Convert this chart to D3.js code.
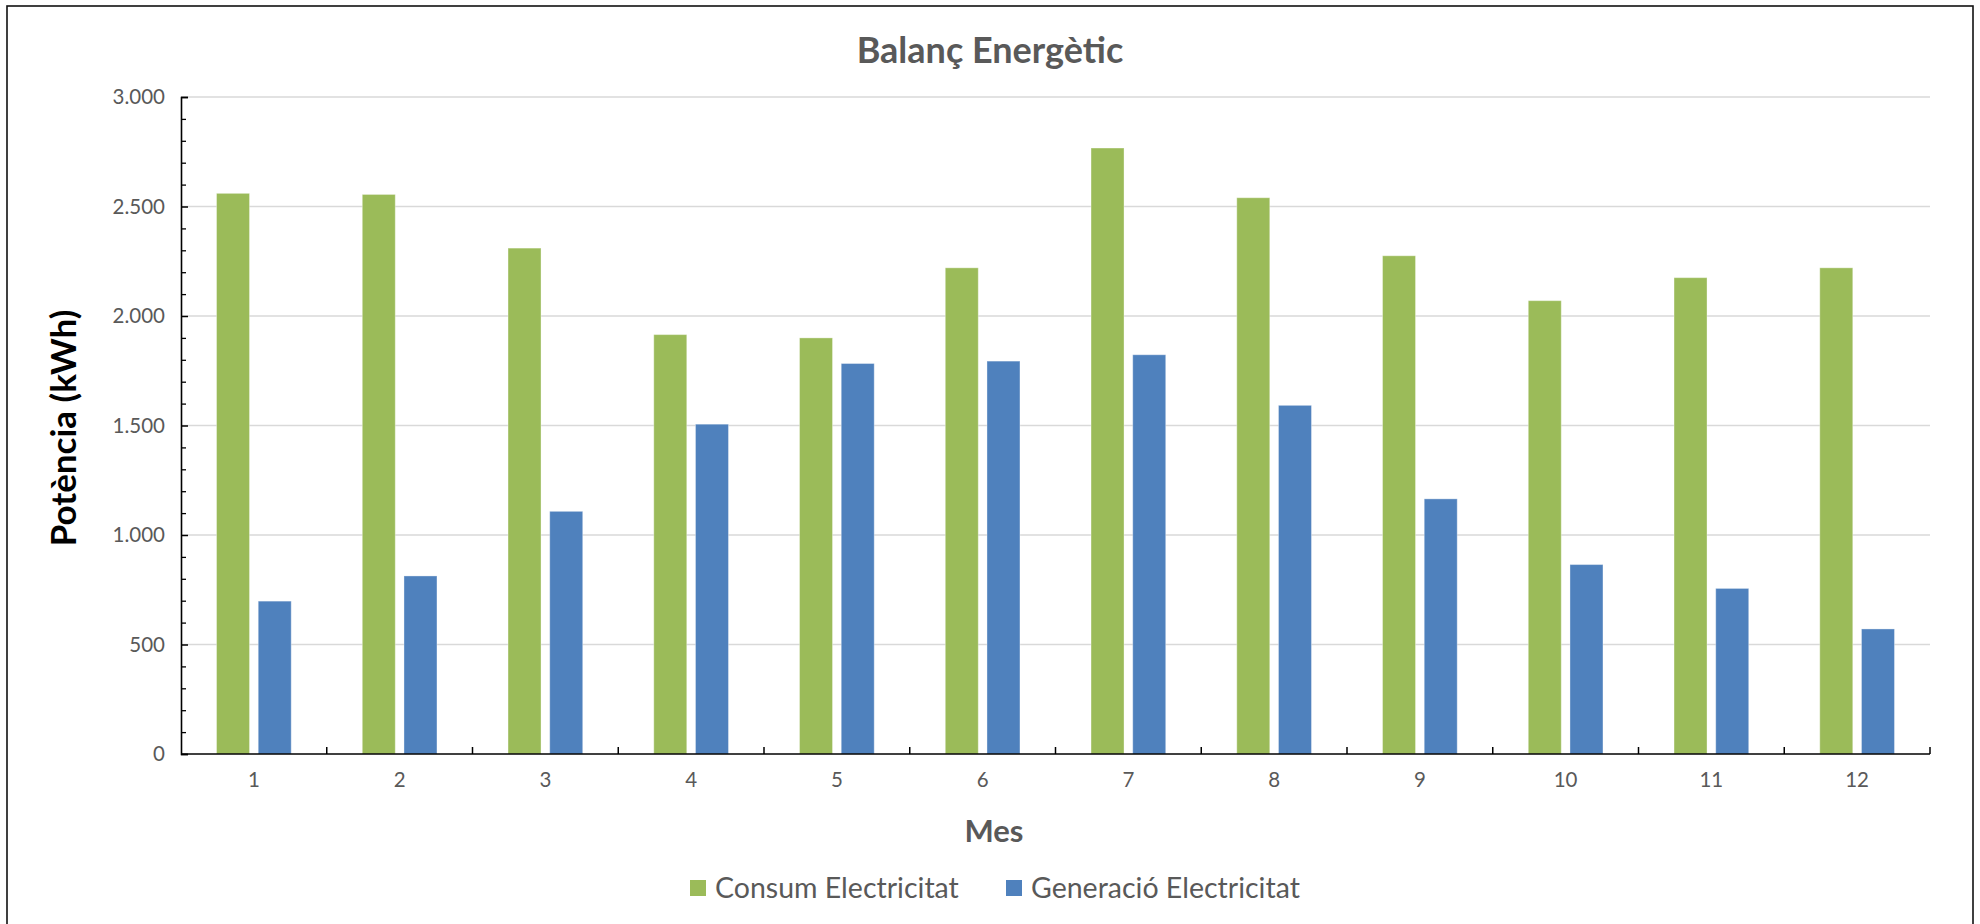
<!DOCTYPE html>
<html>
<head>
<meta charset="utf-8">
<script src="https://cdn.jsdelivr.net/npm/d3@7"></script>
<style>
  html, body { margin: 0; padding: 0; background: #fff; }
  svg { display: block; font-family: Lato, "Open Sans", sans-serif; }
</style>
</head>
<body>
<svg id="chart" width="1980" height="924"></svg>
<script>
// Monthly energy balance (kWh)
const months = ["1", "2", "3", "4", "5", "6", "7", "8", "9", "10", "11", "12"];
const seriesNames = ["Consum Electricitat", "Generació Electricitat"];
const consum = [2560, 2555, 2310, 1915, 1900, 2220, 2767, 2540, 2275, 2070, 2175, 2220];
const generacio = [698, 813, 1108, 1506, 1783, 1794, 1823, 1592, 1165, 865, 756, 571];
const yMajorTicks = [0, 500, 1000, 1500, 2000, 2500, 3000];
const yMinorStep = 100;
const seriesColors = ["#9BBB59", "#4F81BD"];

const rows = months.map((m, i) => ({ month: m, values: [consum[i], generacio[i]] }));

const svg = d3.select("#chart");
const plot = { left: 181, right: 1930, top: 97, bottom: 754 };
const textGrey = "#595959";

// chart frame
svg.append("rect")
  .attr("x", 7).attr("y", 6)
  .attr("width", 1966).attr("height", 940)
  .attr("fill", "#fff")
  .attr("stroke", "#111").attr("stroke-width", 1.6);

const x0 = d3.scaleBand().domain(months).range([plot.left, plot.right]).paddingInner(0).paddingOuter(0);
const x1 = d3.scaleBand().domain(d3.range(seriesNames.length)).range([0, x0.bandwidth()])
  .paddingInner(0.209).paddingOuter(0.852);
const y = d3.scaleLinear().domain([0, 3000]).range([plot.bottom, plot.top]);

const catLocale = d3.formatLocale({ decimal: ",", thousands: ".", grouping: [3], currency: ["", " €"] });
const fmt = catLocale.format(",d");

// horizontal gridlines
svg.append("g").selectAll("line")
  .data(yMajorTicks.filter(t => t > 0))
  .join("line")
  .attr("x1", plot.left).attr("x2", plot.right)
  .attr("y1", d => y(d)).attr("y2", d => y(d))
  .attr("stroke", "#d9d9d9").attr("stroke-width", 1.5);

// bars
const groups = svg.append("g").selectAll("g")
  .data(rows)
  .join("g")
  .attr("transform", d => `translate(${x0(d.month)},0)`);

groups.selectAll("rect")
  .data(d => d.values.map((v, s) => ({ v, s })))
  .join("rect")
  .attr("x", d => x1(d.s))
  .attr("width", x1.bandwidth())
  .attr("y", d => y(d.v))
  .attr("height", d => y(0) - y(d.v))
  .attr("fill", d => seriesColors[d.s])
  .attr("stroke", "#fff").attr("stroke-opacity", 0.35).attr("stroke-width", 1);

// y axis: major ticks, minor ticks inside the plot
const yAxis = d3.axisRight(y).tickValues(yMajorTicks).tickSize(7).tickFormat("");
const yAxisG = svg.append("g").attr("transform", `translate(${plot.left},0)`).call(yAxis);
yAxisG.select(".domain").attr("stroke", "#000").attr("stroke-width", 1.6);
yAxisG.selectAll(".tick line").attr("stroke", "#000").attr("stroke-width", 1.5);

const minorVals = d3.range(0, 3001, yMinorStep).filter(v => v % 500 !== 0);
const yMinor = d3.axisRight(y).tickValues(minorVals).tickSize(5).tickFormat("");
const yMinorG = svg.append("g").attr("transform", `translate(${plot.left},0)`).call(yMinor);
yMinorG.select(".domain").remove();
yMinorG.selectAll(".tick line").attr("stroke", "#000").attr("stroke-width", 1.3);

svg.append("g").selectAll("text")
  .data(yMajorTicks)
  .join("text")
  .attr("x", 165).attr("y", d => y(d))
  .attr("dy", "0.36em")
  .attr("text-anchor", "end")
  .attr("fill", textGrey)
  .attr("font-size", 20.5)
  .text(d => fmt(d));

// x axis: ticks between categories pointing into the plot
const boundaries = months.map(m => x0(m) + x0.bandwidth());
svg.append("g").selectAll("line")
  .data(boundaries)
  .join("line")
  .attr("x1", d => d).attr("x2", d => d)
  .attr("y1", plot.bottom).attr("y2", plot.bottom - 7)
  .attr("stroke", "#000").attr("stroke-width", 1.5);

svg.append("line")
  .attr("x1", plot.left).attr("x2", plot.right)
  .attr("y1", plot.bottom).attr("y2", plot.bottom)
  .attr("stroke", "#000").attr("stroke-width", 1.6);

svg.append("g").selectAll("text")
  .data(months)
  .join("text")
  .attr("x", d => x0(d) + x0.bandwidth() / 2)
  .attr("y", 787)
  .attr("text-anchor", "middle")
  .attr("fill", textGrey)
  .attr("font-size", 20.5)
  .text(d => d);

// titles
svg.append("text")
  .attr("x", 990).attr("y", 63)
  .attr("text-anchor", "middle")
  .attr("fill", textGrey)
  .attr("font-size", 36).attr("font-weight", 700)
  .text("Balanç Energètic");

svg.append("text")
  .attr("x", 994).attr("y", 842)
  .attr("text-anchor", "middle")
  .attr("fill", textGrey)
  .attr("font-size", 31).attr("font-weight", 700)
  .text("Mes");

svg.append("text")
  .attr("transform", "translate(76,428) rotate(-90)")
  .attr("text-anchor", "middle")
  .attr("fill", "#000")
  .attr("font-size", 35).attr("font-weight", 700)
  .text("Potència (kWh)");

// legend
const legendX = [690, 1006];
const legend = svg.append("g").selectAll("g")
  .data(seriesNames)
  .join("g")
  .attr("transform", (d, i) => `translate(${legendX[i]},888)`);
legend.append("rect")
  .attr("x", 0).attr("y", -8)
  .attr("width", 16).attr("height", 16)
  .attr("fill", (d, i) => seriesColors[i]);
legend.append("text")
  .attr("x", 25).attr("y", 0).attr("dy", "0.36em")
  .attr("fill", textGrey)
  .attr("font-size", 28.5)
  .text(d => d);
</script>
</body>
</html>
